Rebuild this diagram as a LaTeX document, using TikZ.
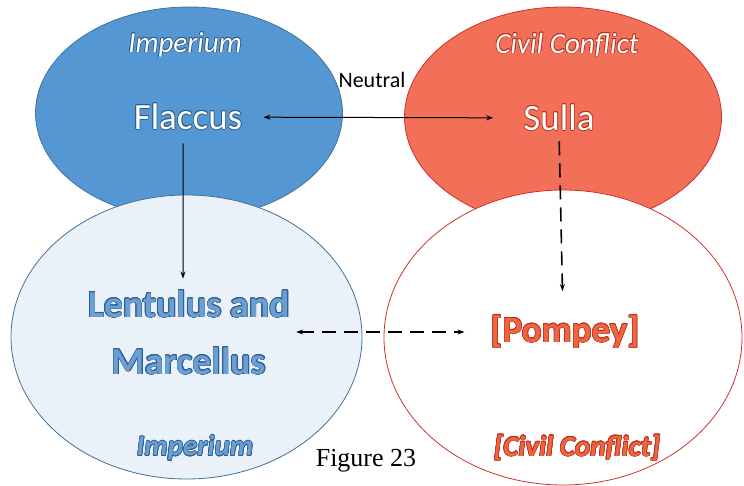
\documentclass[tikz,border=0pt]{standalone}
\usepackage{fontspec}
\setmainfont{Carlito}
\newfontfamily\captionfont{Liberation Serif}
\usepackage{xcolor}
\usepackage{contour}
\contourlength{0.6bp}
\definecolor{cImp}{HTML}{5597D3}
\definecolor{cImpLine}{HTML}{41719C}
\definecolor{cImpPale}{HTML}{EAF1F9}
\definecolor{cImpDeep}{HTML}{2F5D8C}
\definecolor{cImpText}{HTML}{6A9FD6}
\definecolor{cCiv}{HTML}{F27058}
\definecolor{cCivLine}{HTML}{D0302A}
\definecolor{cCivDeep}{HTML}{B8321F}
\definecolor{cCivText}{HTML}{F0643F}
\usetikzlibrary{positioning,arrows.meta,shapes.geometric}
\tikzset{
  node-zone/.style={ellipse,line width=0.8bp,inner sep=0pt},
  node-zone-imp/.style={node-zone,draw=cImpLine,fill=cImp},
  node-zone-civ/.style={node-zone,draw=cCivLine,fill=cCiv},
  node-zone-imp-pale/.style={node-zone,draw=cImpLine,fill=cImpPale},
  node-zone-civ-pale/.style={node-zone,draw=cCivLine,fill=white},
  node-name/.style={inner sep=0pt,align=center,font=\fontsize{37bp}{44bp}\selectfont},
  node-tag/.style={inner sep=0pt,font=\fontsize{29bp}{34bp}\selectfont\itshape},
  arrow/.style={-{Stealth[length=7bp,width=5bp]},line width=1bp,draw=black},
  arrow-both/.style={{Stealth[length=7bp,width=5bp]}-{Stealth[length=7bp,width=5bp]},
    line width=1bp,draw=black},
  arrow-dash/.style={arrow,line width=1.6bp,dash pattern=on 14bp off 8bp},
  arrow-dash-both/.style={arrow-both,line width=1.6bp,dash pattern=on 14bp off 8bp},
}
\newcommand{\wordart}[3]{{\color{#1}\contour{#2}{#3}}}

\begin{document}
\begin{tikzpicture}[x=1bp,y=-1bp]
  \useasboundingbox (0,0) rectangle (744,486);
  % the four zones
  \node[node-zone-imp,minimum width=307bp,minimum height=212bp] (imp) at (189,113) {};
  \node[node-zone-civ,minimum width=317bp,minimum height=220bp] (civ) at (563,117) {};
  \node[node-zone-imp-pale,minimum width=351bp,minimum height=284bp] (imp2) at (186.5,337) {};
  \node[node-zone-civ-pale,minimum width=358bp,minimum height=295bp] (civ2) at (563,337.5) {};
  % labels
  \node[node-tag] (imp-tag) at (185,45) {\wordart{white}{cImpDeep}{Imperium}};
  \node[node-tag] (civ-tag) at (567,45) {\wordart{white}{cCivDeep}{Civil Conflict}};
  \node[node-name] (flaccus) at (188,117) {\wordart{white}{cImpDeep}{Flaccus}};
  \node[node-name] (sulla) at (559,118) {\wordart{white}{cCivDeep}{Sulla}};
  \node[inner sep=0pt,font=\fontsize{22bp}{26bp}\selectfont] (neutral) at (372,80) {Neutral};
  \node[node-name,font=\fontsize{38bp}{57bp}\selectfont\bfseries] (lentulus) at (189,333)
    {\wordart{cImpText}{cImpDeep}{Lentulus and}\\\wordart{cImpText}{cImpDeep}{Marcellus}};
  \node[node-name,font=\fontsize{37bp}{44bp}\selectfont\bfseries] (pompey) at (565,332)
    {\wordart{cCivText}{cCivDeep}{[Pompey]}};
  \node[node-tag,font=\fontsize{29bp}{34bp}\selectfont\bfseries\itshape] (imp2-tag) at (195,448)
    {\wordart{cImpText}{cImpDeep}{Imperium}};
  \node[node-tag,font=\fontsize{29bp}{34bp}\selectfont\bfseries\itshape] (civ2-tag) at (577,448)
    {\wordart{cCivText}{cCivDeep}{[Civil Conflict]}};
  \node[inner sep=0pt,font=\fontsize{26bp}{30bp}\captionfont] (fig) at (366,461) {Figure 23};
  % links
  \draw[arrow-both,shorten <=21bp,shorten >=30bp] (flaccus) -- (sulla);
  \draw[arrow,shorten <=13bp,shorten >=12bp] ([xshift=-5bp]flaccus.south) -- ([xshift=-6bp]lentulus.north);
  \draw[arrow-dash,shorten <=10bp,shorten >=24bp] (sulla.south) -- ([xshift=-2bp]pompey.north);
  \draw[arrow-dash-both,shorten <=6bp,shorten >=26bp] (lentulus.east |- pompey) -- (pompey.west);
\end{tikzpicture}
\end{document}
